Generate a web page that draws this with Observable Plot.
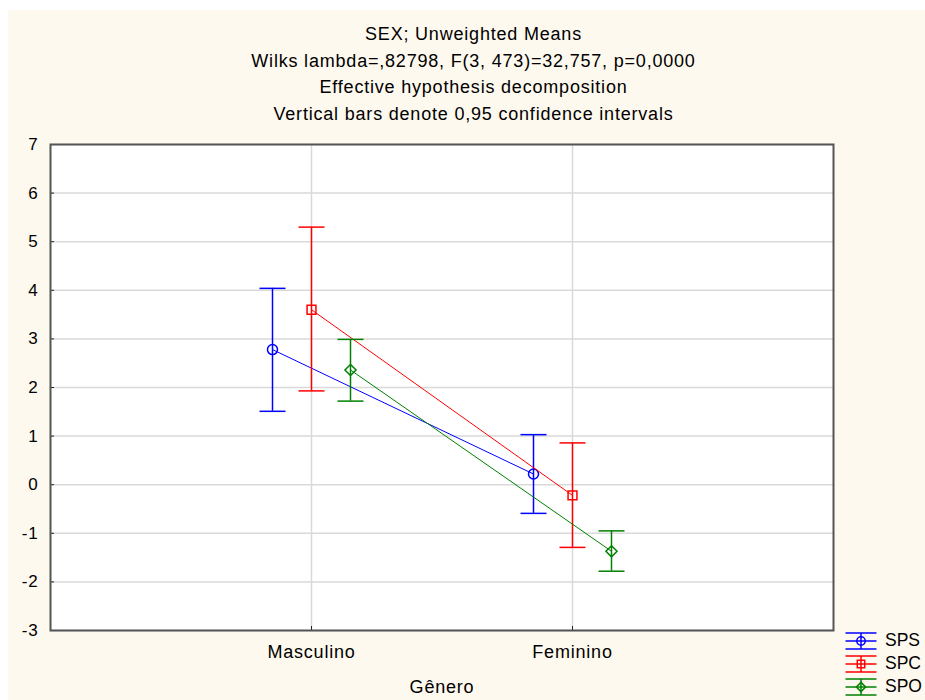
<!DOCTYPE html>
<html>
<head>
<meta charset="utf-8">
<script src="https://cdn.jsdelivr.net/npm/d3@7"></script>
<script src="https://cdn.jsdelivr.net/npm/@observablehq/plot@0.6"></script>
<style>
  html, body { margin: 0; padding: 0; background: #ffffff; }
  #wrap { position: absolute; left: 8px; top: 10px; width: 917px; height: 690px; background: #fef9ee; overflow: hidden;
          font-family: "Liberation Sans", Arial, sans-serif; color: #000; }
  #title { position: absolute; left: 0; top: 11px; width: 931px; text-align: center; font-size: 18px; line-height: 26.7px; letter-spacing: 0.8px; }
  #chart { position: absolute; left: 0; top: 124px; }
  #chart svg text { letter-spacing: 0.8px; }
  #legend { position: absolute; left: 837px; top: 619px; font-size: 17.5px; letter-spacing: 0; }
  #legend .row { position: relative; height: 23px; display: flex; align-items: center; white-space: nowrap; }
  #legend svg { display: block; margin-right: 8px; }
</style>
</head>
<body>
<div id="wrap">
  <div id="title"></div>
  <div id="chart"></div>
  <div id="legend"></div>
</div>
<script>
// ---- data ----
const genero = ["Masculino", "Feminino"];
const seriesNames = ["SPS", "SPC", "SPO"];

const spsMean = [2.78, 0.22];
const spsLow  = [1.51, -0.59];
const spsHigh = [4.04, 1.03];

const spcMean = [3.60, -0.22];
const spcLow  = [1.93, -1.29];
const spcHigh = [5.30, 0.86];

const spoMean = [2.36, -1.37];
const spoLow  = [1.72, -1.78];
const spoHigh = [2.99, -0.95];

const yTicks = [-3, -2, -1, 0, 1, 2, 3, 4, 5, 6, 7];
const yTickLabels = ["-3", "-2", "-1", "0", "1", "2", "3", "4", "5", "6", "7"];
const xLabel = "Gênero";
const titleLines = [
  "SEX; Unweighted Means",
  "Wilks lambda=,82798, F(3, 473)=32,757, p=0,0000",
  "Effective hypothesis decomposition",
  "Vertical bars denote 0,95 confidence intervals"
];

// ---- styling ----
const colors = ["#0000ff", "#ff0000", "#008000"];
const symbols = ["circle", "square", "diamond2"];
const dodge = [-39, 0, 39];

const meansList = [spsMean, spcMean, spoMean];
const lowList = [spsLow, spcLow, spoLow];
const highList = [spsHigh, spcHigh, spoHigh];

document.getElementById("title").innerHTML = titleLines.map(t => `<div>${t}</div>`).join("");

const capSymbol = { draw(ctx) { ctx.moveTo(-13, 0); ctx.lineTo(13, 0); } };

const marks = [
  Plot.frame({ fill: "white", stroke: null }),
  Plot.gridY(yTicks, { stroke: "#d9d9d9", strokeOpacity: 1, strokeWidth: 1.5 }),
  Plot.gridX(genero, { stroke: "#d9d9d9", strokeOpacity: 1, strokeWidth: 1.5 })
];

seriesNames.forEach((s, k) => {
  const rows = genero.map((g, i) => ({ genero: g, mean: meansList[k][i], low: lowList[k][i], high: highList[k][i] }));
  const c = colors[k], dx = dodge[k];
  marks.push(
    Plot.line(rows, { x: "genero", y: "mean", stroke: c, strokeWidth: 1, dx }),
    Plot.ruleX(rows, { x: "genero", y1: "low", y2: "high", stroke: c, strokeWidth: 1.5, dx }),
    Plot.dot(rows, { x: "genero", y: "high", symbol: capSymbol, stroke: c, fill: "none", strokeWidth: 1.5, dx }),
    Plot.dot(rows, { x: "genero", y: "low", symbol: capSymbol, stroke: c, fill: "none", strokeWidth: 1.5, dx }),
    Plot.dot(rows, { x: "genero", y: "mean", symbol: symbols[k], r: 5, stroke: c, fill: "none", strokeWidth: 1.5, dx })
  );
});

marks.push(
  Plot.axisY(yTicks, { tickSize: 0, tickPadding: 12, fontSize: 17, label: null,
                       tickFormat: d => yTickLabels[yTicks.indexOf(d)] }),
  Plot.axisY(yTicks, { tickSize: 4, dx: 4, fill: "none", label: null, stroke: "#222" }),
  Plot.axisX({ tickSize: 0, tickPadding: 15, fontSize: 18, label: null }),
  Plot.axisX({ tickSize: 4, dy: -4, fill: "none", label: null, stroke: "#222" }),
  Plot.text([xLabel], { frameAnchor: "bottom", dy: 50, lineAnchor: "top", fontSize: 18, fill: "#000" }),
  Plot.frame({ stroke: "#555", strokeWidth: 2 })
);

const chart = Plot.plot({
  width: 917,
  height: 566,
  marginTop: 10,
  marginLeft: 42,
  marginRight: 92,
  marginBottom: 70,
  style: { fontFamily: "Liberation Sans, Arial, sans-serif", background: "transparent", color: "#000", overflow: "visible" },
  x: { type: "point", domain: genero, padding: 1 },
  y: { domain: [-3, 7] },
  marks
});
document.getElementById("chart").appendChild(chart);

// ---- legend ----
const legend = document.getElementById("legend");
seriesNames.forEach((s, k) => {
  const c = colors[k];
  const sym = d3.symbol(k === 0 ? d3.symbolCircle : k === 1 ? d3.symbolSquare : d3.symbolDiamond2, 55)();
  legend.insertAdjacentHTML("beforeend",
    `<div class="row"><svg width="32" height="20" viewBox="-16 -10 32 20">
      <g stroke="${c}" stroke-width="1.5" fill="none">
        <line x1="-15.5" x2="15.5" y1="-8" y2="-8"/>
        <line x1="-15.5" x2="15.5" y1="0" y2="0"/>
        <line x1="-15.5" x2="15.5" y1="8" y2="8"/>
        <line x1="0" x2="0" y1="-8" y2="8"/>
        <path d="${sym}"/>
      </g></svg><span>${s}</span></div>`);
});
</script>
</body>
</html>
